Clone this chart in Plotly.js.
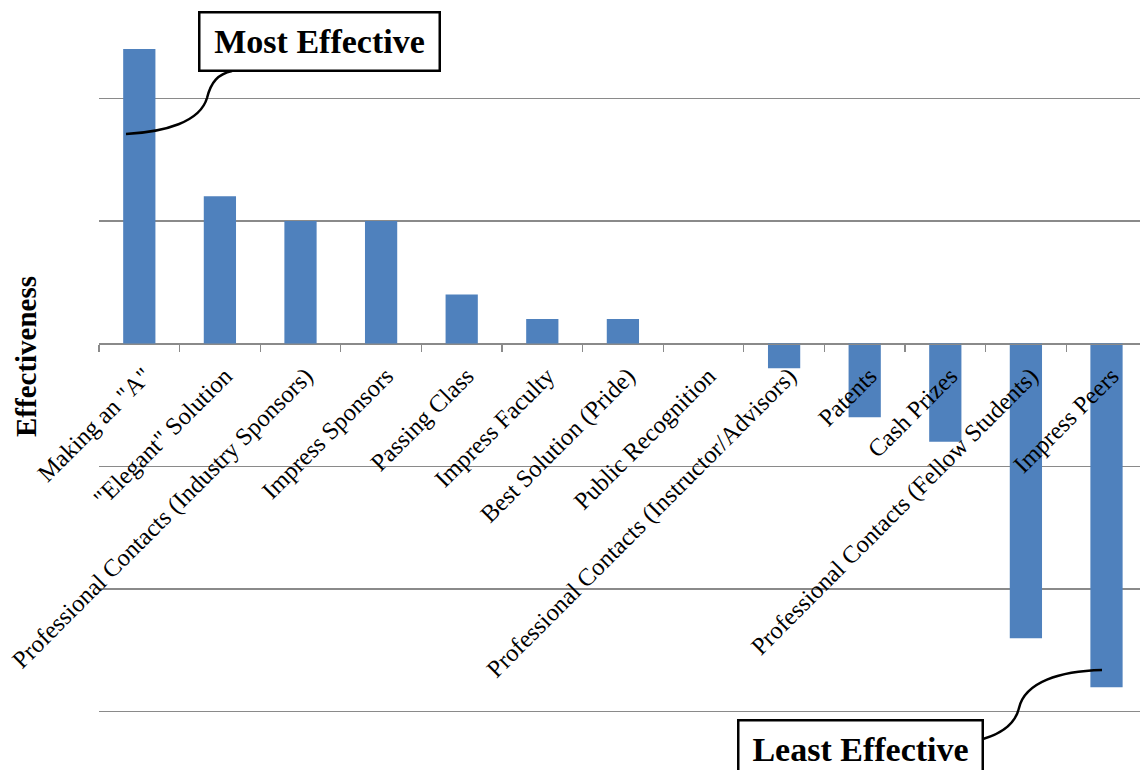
<!DOCTYPE html>
<html>
<head>
<meta charset="utf-8">
<script src="https://cdn.plot.ly/plotly-3.0.1.min.js"></script>
<style>
  html, body { margin: 0; padding: 0; background: #fff; }
  #chart { width: 1140px; height: 770px; }
</style>
</head>
<body>
<div id="chart"></div>
<script>
// Motivators ranked by effectiveness
const categories = [
  'Making an "A"',
  '"Elegant" Solution',
  'Professional Contacts (Industry Sponsors)',
  'Impress Sponsors',
  'Passing Class',
  'Impress Faculty',
  'Best Solution (Pride)',
  'Public Recognition',
  'Professional Contacts (Instructor/Advisors)',
  'Patents',
  'Cash Prizes',
  'Professional Contacts (Fellow Students)',
  'Impress Peers'
];
const effectiveness = [2.4, 1.2, 1.0, 1.0, 0.4, 0.2, 0.2, 0, -0.2, -0.6, -0.8, -2.4, -2.8];

const W = 1140, H = 770;
const M = { l: 99, r: 0, t: 0, b: 57 };
const yRange = [-3.01, 2.8];
const plotW = W - M.l - M.r, plotH = H - M.t - M.b;

// pixel -> paper helpers for the callout geometry
const px = x => (x - M.l) / plotW;
const py = y => 1 - (y - M.t) / plotH;
const pathFrom = segs => segs.map(s => s[0] + ' ' +
  s.slice(1).map(p => px(p[0]).toFixed(5) + ',' + py(p[1]).toFixed(5)).join(' ')).join(' ');

const gridGray = '#8a8a8a';
const serif = 'Liberation Serif, Times New Roman, serif';

const trace = {
  type: 'bar',
  x: categories,
  y: effectiveness,
  marker: { color: '#4F81BD', line: { width: 0 } },
  hoverinfo: 'skip'
};

const layout = {
  width: W, height: H,
  margin: M,
  paper_bgcolor: '#fff',
  plot_bgcolor: '#fff',
  showlegend: false,
  bargap: 0.6,
  font: { family: serif, color: '#000' },
  xaxis: {
    type: 'category',
    range: [-0.5, -0.5 + plotW / 80.6],
    anchor: 'free',
    position: (0 - yRange[0]) / (yRange[1] - yRange[0]),
    showline: true,
    linecolor: gridGray,
    linewidth: 1.3,
    ticks: 'outside',
    tickson: 'boundaries',
    ticklen: 7,
    tickwidth: 1.3,
    tickcolor: gridGray,
    tickangle: -45,
    ticklabelstandoff: 7,
    ticklabelshift: 5,
    tickfont: { family: serif, size: 24.5, color: '#000' },
    showgrid: false,
    zeroline: false,
    automargin: false
  },
  yaxis: {
    range: yRange,
    dtick: 1,
    tick0: 0,
    showgrid: true,
    gridcolor: gridGray,
    gridwidth: 1.3,
    zeroline: false,
    showticklabels: false,
    ticks: '',
    showline: false,
    automargin: false,
    title: {
      text: '<b>Effectiveness</b>',
      font: { family: serif, size: 29, color: '#000' },
      standoff: 52
    }
  },
  shapes: [
    {
      type: 'path', xref: 'paper', yref: 'paper',
      path: pathFrom([['M', [126, 134]], ['C', [165, 132], [200, 122], [207, 98]], ['C', [211, 82], [218, 74], [232, 71]]]),
      line: { color: '#000', width: 2.5 }
    },
    {
      type: 'path', xref: 'paper', yref: 'paper',
      path: pathFrom([['M', [1102, 670]], ['C', [1060, 671], [1025, 682], [1019, 708]], ['C', [1015, 725], [1000, 734], [983, 739]]]),
      line: { color: '#000', width: 2.5 }
    }
  ],
  annotations: [
    {
      xref: 'paper', yref: 'paper', x: px(319.5), y: py(41),
      xanchor: 'center', yanchor: 'middle',
      text: '<b>Most Effective</b>', showarrow: false,
      font: { family: serif, size: 34, color: '#000' },
      bgcolor: '#fff', bordercolor: '#000', borderwidth: 2.5, borderpad: 0,
      width: 238, height: 56, align: 'center', valign: 'middle'
    },
    {
      xref: 'paper', yref: 'paper', x: px(860), y: py(749),
      xanchor: 'center', yanchor: 'middle',
      text: '<b>Least Effective</b>', showarrow: false,
      font: { family: serif, size: 34, color: '#000' },
      bgcolor: '#fff', bordercolor: '#000', borderwidth: 2.5, borderpad: 0,
      width: 242, height: 56, align: 'center', valign: 'middle'
    }
  ]
};

Plotly.newPlot('chart', [trace], layout, { staticPlot: true, displayModeBar: false });
</script>
</body>
</html>
